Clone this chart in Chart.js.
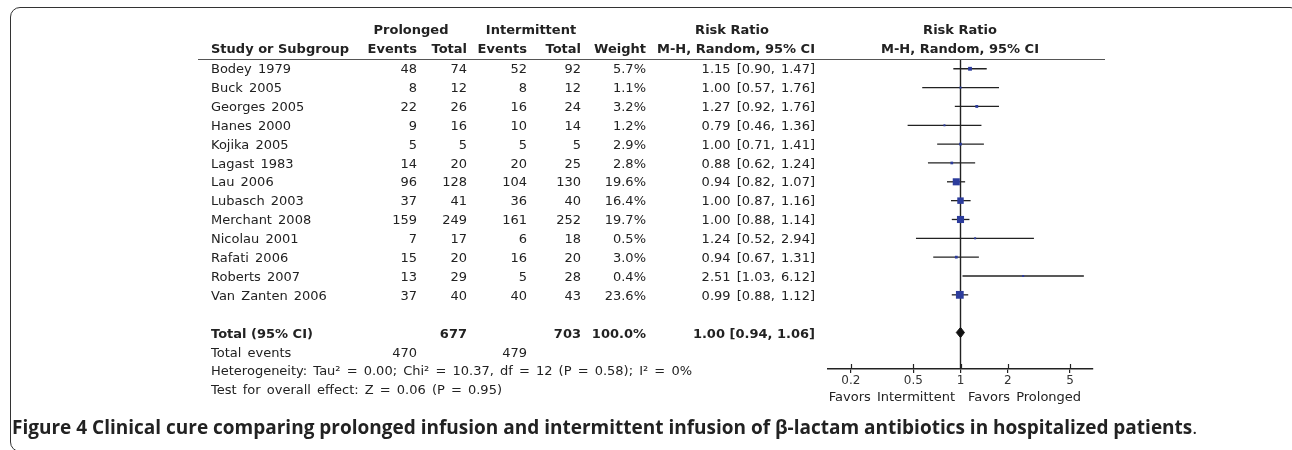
<!DOCTYPE html>
<html>
<head>
<meta charset="utf-8">
<script src="https://cdn.jsdelivr.net/npm/chart.js@4.4.1/dist/chart.umd.min.js"></script>
<style>
  body { margin: 0; background: #fff; width: 1292px; height: 450px; overflow: hidden; position: relative; }
  #frame { position: absolute; left: 10px; top: 7px; width: 1290px; height: 445px; border: 1.5px solid #333; border-radius: 10px; box-sizing: border-box; }
  .t { position: absolute; font-family: 'DejaVu Sans', sans-serif; font-size: 13px; color: #222; white-space: nowrap; height: 18.9px; line-height: 18.9px; word-spacing: 2px; }
  .b { font-weight: bold; word-spacing: 0; }
  #rule { position: absolute; left: 198px; top: 59px; width: 907px; height: 0; border-top: 1.5px solid #555; }
  #caption { position: absolute; left: 12px; top: 414px; font-family: 'Open Sans', sans-serif; font-size: 19px; color: #222; white-space: nowrap; }
  #chart { position: absolute; left: 0; top: 0; }
</style>
</head>
<body>
<div id="frame"></div>
<div id="rule"></div>
<canvas id="chart" width="1292" height="450"></canvas>
<div id="caption"><b>Figure 4 Clinical cure comparing prolonged infusion and intermittent infusion of β-lactam antibiotics in hospitalized patients</b>.</div>
<script>
const studies = ['Bodey 1979', 'Buck 2005', 'Georges 2005', 'Hanes 2000', 'Kojika 2005', 'Lagast 1983',
    'Lau 2006', 'Lubasch 2003', 'Merchant 2008', 'Nicolau 2001', 'Rafati 2006', 'Roberts 2007', 'Van Zanten 2006'];
const eventsP = [48, 8, 22, 9, 5, 14, 96, 37, 159, 7, 15, 13, 37];
const totalP = [74, 12, 26, 16, 5, 20, 128, 41, 249, 17, 20, 29, 40];
const eventsI = [52, 8, 16, 10, 5, 20, 104, 36, 161, 6, 16, 5, 40];
const totalI = [92, 12, 24, 14, 5, 25, 130, 40, 252, 18, 20, 28, 43];
const weights = [5.7, 1.1, 3.2, 1.2, 2.9, 2.8, 19.6, 16.4, 19.7, 0.5, 3.0, 0.4, 23.6];
const rr = [1.15, 1.00, 1.27, 0.79, 1.00, 0.88, 0.94, 1.00, 1.00, 1.24, 0.94, 2.51, 0.99];
const ciLow = [0.90, 0.57, 0.92, 0.46, 0.71, 0.62, 0.82, 0.87, 0.88, 0.52, 0.67, 1.03, 0.88];
const ciHigh = [1.47, 1.76, 1.76, 1.36, 1.41, 1.24, 1.07, 1.16, 1.14, 2.94, 1.31, 6.12, 1.12];
const pooled = [1.00, 0.94, 1.06];
const grandTotals = [677, 703];
const totalEvents = [470, 479];
const xTicks = [0.2, 0.5, 1, 2, 5];

const ROW0 = 69.5, ROWH = 18.9;
const totalRow = studies.length + 1;

// place a text span; align: 'l' | 'r' | 'c'
function put(text, x, yc, align, bold) {
    const el = document.createElement('div');
    el.className = 't' + (bold ? ' b' : '');
    el.innerHTML = text;
    el.style.top = (yc - ROWH / 2) + 'px';
    if (align === 'r') {
        el.style.right = (1292 - x) + 'px';
    } else if (align === 'c') {
        el.style.left = x + 'px';
        el.style.transform = 'translateX(-50%)';
    } else {
        el.style.left = x + 'px';
    }
    document.body.appendChild(el);
}

const col = { study: 211, ev1: 417, tot1: 467, ev2: 527, tot2: 581, wt: 646, ci: 815 };
const fmtCI = (m, l, h) => `${m.toFixed(2)} [${l.toFixed(2)}, ${h.toFixed(2)}]`;

// headers
put('Prolonged', 411, 30, 'c', true);
put('Intermittent', 531, 30, 'c', true);
put('Risk Ratio', 732, 30, 'c', true);
put('Risk Ratio', 960, 30, 'c', true);
put('Study or Subgroup', col.study, 49, 'l', true);
put('Events', col.ev1, 49, 'r', true);
put('Total', col.tot1, 49, 'r', true);
put('Events', col.ev2, 49, 'r', true);
put('Total', col.tot2, 49, 'r', true);
put('Weight', col.wt, 49, 'r', true);
put('M-H, Random, 95% CI', col.ci, 49, 'r', true);
put('M-H, Random, 95% CI', 960, 49, 'c', true);

studies.forEach((s, i) => {
    const y = ROW0 + i * ROWH;
    put(s, col.study, y, 'l');
    put(eventsP[i], col.ev1, y, 'r');
    put(totalP[i], col.tot1, y, 'r');
    put(eventsI[i], col.ev2, y, 'r');
    put(totalI[i], col.tot2, y, 'r');
    put(weights[i].toFixed(1) + '%', col.wt, y, 'r');
    put(fmtCI(rr[i], ciLow[i], ciHigh[i]), col.ci, y, 'r');
});

let y = ROW0 + totalRow * ROWH;
put('Total (95% CI)', col.study, y, 'l', true);
put(grandTotals[0], col.tot1, y, 'r', true);
put(grandTotals[1], col.tot2, y, 'r', true);
put('100.0%', col.wt, y, 'r', true);
put(fmtCI(pooled[0], pooled[1], pooled[2]), col.ci, y, 'r', true);
y += ROWH;
put('Total events', col.study, y, 'l');
put(totalEvents[0], col.ev1, y, 'r');
put(totalEvents[1], col.ev2, y, 'r');
y += ROWH;
put('Heterogeneity: Tau² = 0.00; Chi² = 10.37, df = 12 (P = 0.58); I² = 0%', col.study, y, 'l');
y += ROWH;
put('Test for overall effect: Z = 0.06 (P = 0.95)', col.study, y, 'l');

put('Favors Intermittent', 955, 397, 'r');
put('Favors Prolonged', 968, 397, 'l');

// forest plot
const ink = '#222';
const ciSets = studies.map((s, i) => ({
    type: 'line',
    label: s,
    data: [{ x: ciLow[i], y: i }, { x: ciHigh[i], y: i }],
    borderColor: ink,
    borderWidth: 1.3,
    pointRadius: 0,
    order: 2
}));

const yMin = -(ROW0 - 0.7 - 60) / ROWH;
const yMax = (370 - (ROW0 - 0.7)) / ROWH;

const crossTicks = {
    id: 'crossTicks',
    afterDraw(c) {
        const sx = c.scales.x, bottom = c.chartArea.bottom;
        const ctx = c.ctx;
        ctx.save();
        ctx.strokeStyle = ink;
        ctx.lineWidth = 1.2;
        sx.ticks.forEach(t => {
            const px = Math.round(sx.getPixelForValue(t.value)) + 0.5;
            ctx.beginPath();
            ctx.moveTo(px, bottom - 5);
            ctx.lineTo(px, bottom);
            ctx.stroke();
        });
        ctx.restore();
    }
};

new Chart(document.getElementById('chart'), {
    type: 'scatter',
    data: {
        datasets: [
            {
                label: 'Risk ratio',
                data: rr.map((v, i) => ({ x: v, y: i })),
                pointStyle: 'rect',
                pointRadius: weights.map(w => Math.max(1.6 * Math.sqrt(w), 2) / Math.SQRT2),
                backgroundColor: '#2c3c9c',
                borderWidth: 0,
                order: 0
            },
            {
                type: 'line',
                label: 'Total',
                data: [
                    { x: pooled[1], y: totalRow },
                    { x: pooled[0], y: totalRow - 0.27 },
                    { x: pooled[2], y: totalRow },
                    { x: pooled[0], y: totalRow + 0.27 },
                    { x: pooled[1], y: totalRow }
                ],
                borderColor: '#111',
                backgroundColor: '#111',
                borderWidth: 1,
                fill: 'shape',
                pointRadius: 0,
                order: 1
            },
            ...ciSets,
            {
                type: 'line',
                label: 'No effect',
                data: [{ x: 1, y: yMin }, { x: 1, y: yMax }],
                borderColor: ink,
                borderWidth: 1.4,
                pointRadius: 0,
                order: 3
            }
        ]
    },
    options: {
        responsive: false,
        animation: false,
        devicePixelRatio: 1,
        layout: { padding: { left: 828, right: 199, top: 60, bottom: 60.6 } },
        plugins: { legend: { display: false }, tooltip: { enabled: false } },
        scales: {
            x: {
                type: 'logarithmic',
                min: 1 / 7,
                max: 7,
                afterBuildTicks: s => { s.ticks = xTicks.map(v => ({ value: v })); },
                ticks: {
                    callback: v => String(v),
                    autoSkip: false,
                    maxRotation: 0,
                    padding: 1,
                    color: '#333',
                    font: { family: 'DejaVu Sans', size: 12 }
                },
                grid: { drawOnChartArea: false, drawTicks: true, tickLength: 4, color: ink, lineWidth: 1.2 },
                border: { color: ink, width: 1.5 }
            },
            y: {
                type: 'linear',
                display: false,
                reverse: true,
                min: yMin,
                max: yMax
            }
        }
    },
    plugins: [crossTicks]
});
</script>
</body>
</html>
